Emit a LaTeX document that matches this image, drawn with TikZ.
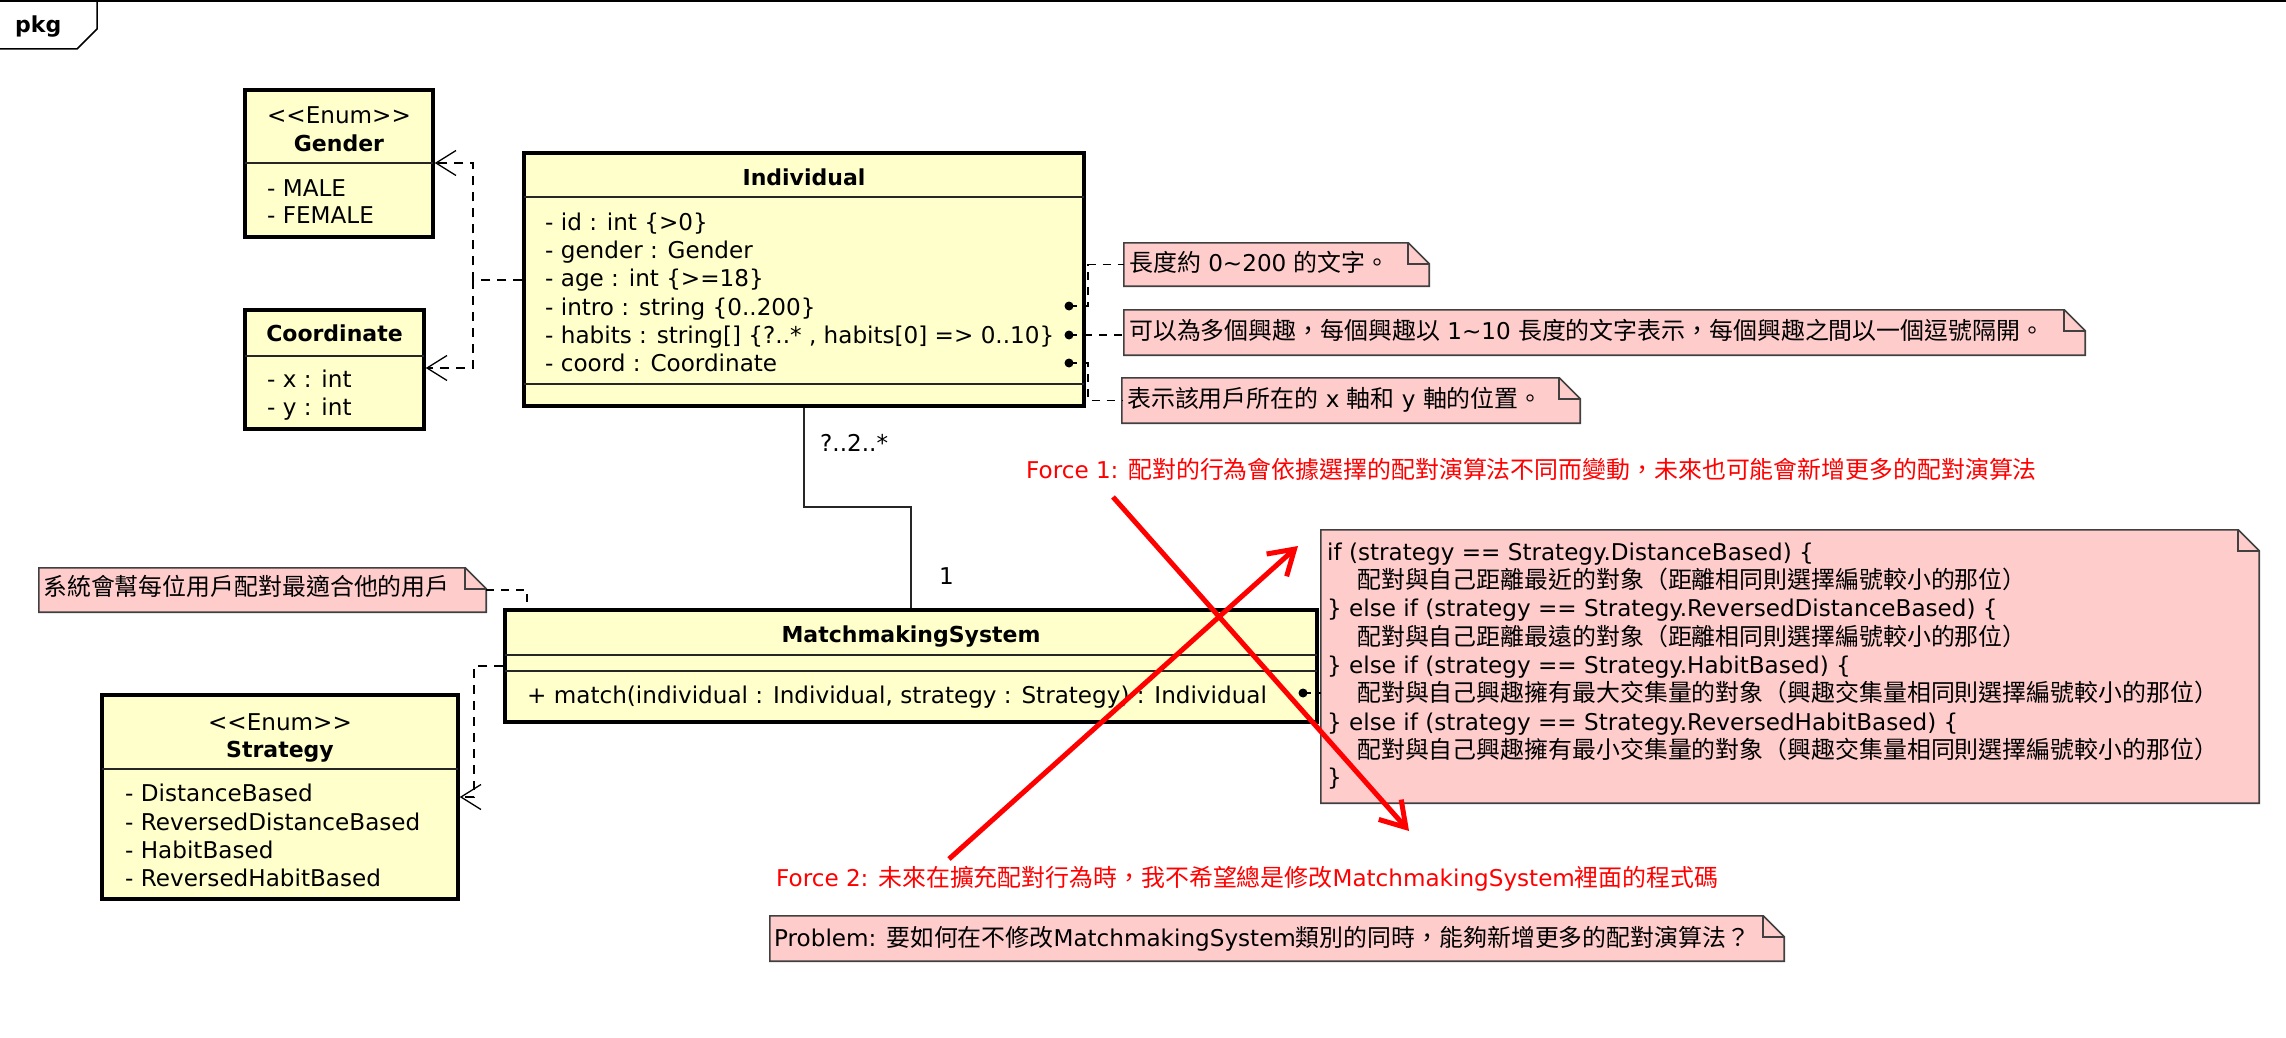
\documentclass[tikz,border=0pt]{standalone}
\usepackage{fontspec}
\setmainfont{DejaVu Sans}
\newfontfamily\cjkfont{Noto Sans CJK TC}[Scale=1.035]
\newcommand\zh[1]{{\cjkfont #1}}
\newcommand\enumtag{<\kern0pt<Enum>\kern0pt>}
\usetikzlibrary{arrows.meta,fit}
\definecolor{umlyellow}{RGB}{255,255,204}
\definecolor{notepink}{RGB}{255,204,204}
\definecolor{forcered}{RGB}{255,0,0}
\tikzset{
  classbox/.style={draw=black, line width=3.5pt, fill=umlyellow, inner sep=0pt},
  divider/.style={draw=black!85, line width=1.3pt},
  holder/.style={inner sep=0pt},
  noteline/.style={draw=black!75, line width=1.6pt},
  txt/.style={inner sep=0pt, anchor=west, font=\fontsize{23.1pt}{28pt}\selectfont, text height=21pt, text depth=4.4pt},
  ctxt/.style={txt, anchor=center},
  ttl/.style={txt, anchor=center, font=\bfseries\fontsize{22pt}{28pt}\selectfont},
  redtxt/.style={txt, text=forcered},
  dep/.style={draw=black, line width=1.3pt, dash pattern=on 9pt off 7pt, -{Straight Barb[length=20pt,width=25pt]}},
  notelink/.style={draw=black, line width=1.3pt, dash pattern=on 8pt off 7pt},
  assoc/.style={draw=black!85, line width=1.3pt},
  dotmark/.style={circle, fill=black, inner sep=0pt, minimum size=9pt},
  force/.style={draw=forcered, line width=5pt, -{Straight Barb[length=24pt,width=30pt]}},
}
\newcommand\drawnote[1]{%
  \draw[noteline, fill=notepink] (#1.north west) -- ([xshift=-21pt]#1.north east) -- ([yshift=-21pt]#1.north east) -- (#1.south east) -- (#1.south west) -- cycle;
  \draw[noteline] ([xshift=-21pt]#1.north east) -- ([xshift=-21pt,yshift=-21pt]#1.north east) -- ([yshift=-21pt]#1.north east);}
\begin{document}
\begin{tikzpicture}[x=1pt,y=-1pt]
\fill[white] (0,0) rectangle (2286,1038);
\useasboundingbox (0,0) rectangle (2286,1038);

% frame
\draw[line width=2.5pt] (0,1.25) -- (2286,1.25);
\draw[line width=1.5pt] (97,0) -- (97,29) -- (77,49) -- (0,49);
\node[inner sep=0pt, anchor=base west, font=\bfseries\fontsize{22pt}{24pt}\selectfont] (pkg) at (15,33) {pkg};

% class boxes
\node[classbox, fit={(245,90) (433,237)}] (gender) {};
\node[classbox, fit={(245,310) (424,429)}] (coordbox) {};
\node[classbox, fit={(524,153) (1084,406)}] (individual) {};
\node[classbox, fit={(505,610) (1317,722)}] (mm) {};
\node[classbox, fit={(102,695) (458,899)}] (strategy) {};

\draw[divider] (245,163) -- (433,163);
\draw[divider] (245,356) -- (424,356);
\draw[divider] (524,197) -- (1084,197);
\draw[divider] (524,384) -- (1084,384);
\draw[divider] (505,655) -- (1317,655);
\draw[divider] (505,671) -- (1317,671);
\draw[divider] (102,769) -- (458,769);

% notes
\node[holder, fit={(1124,243) (1429,286)}] (n1) {};
\node[holder, fit={(1124,310) (2085,355)}] (n2) {};
\node[holder, fit={(1122,378) (1580,423)}] (n3) {};
\node[holder, fit={(39,568) (486,612)}] (sysnote) {};
\node[holder, fit={(1321,530) (2259,803)}] (bignote) {};
\node[holder, fit={(770,916) (1784,961)}] (problem) {};
\drawnote{n1}\drawnote{n2}\drawnote{n3}\drawnote{sysnote}\drawnote{bignote}\drawnote{problem}

% class texts
\node[ctxt] (g-st) at (339,115) {\enumtag};
\node[ttl] (g-nm) at (339,143) {Gender};
\node[txt] (g-1) at (267,188) {- MALE};
\node[txt] (g-2) at (267,215) {- FEMALE};

\node[ttl] (c-nm) at (334.5,333) {Coordinate};
\node[txt] (c-1) at (267,379) {- x : int};
\node[txt] (c-2) at (267,407) {- y : int};

\node[ttl] (i-nm) at (804,177) {Individual};
\node[txt] (i-1) at (545,222) {- id : int \{>0\}};
\node[txt] (i-2) at (545,250) {- gender : Gender};
\node[txt] (i-3) at (545,278) {- age : int \{>=18\}};
\node[txt] (i-4) at (545,307) {- intro : string \{0..200\}};
\node[txt] (i-5) at (545,335) {- habits : string[] \{?..* , habits[0] => 0..10\}};
\node[txt] (i-6) at (545,363) {- coord : Coordinate};

\node[ttl] (m-nm) at (911,634) {MatchmakingSystem};
\node[txt] (m-1) at (527,695) {+ match(individual : Individual, strategy : Strategy) : Individual};

\node[ctxt] (s-st) at (280,722) {\enumtag};
\node[ttl] (s-nm) at (280,749) {Strategy};
\node[txt] (s-1) at (125,793) {- DistanceBased};
\node[txt] (s-2) at (125,822) {- ReversedDistanceBased};
\node[txt] (s-3) at (125,850) {- HabitBased};
\node[txt] (s-4) at (125,878) {- ReversedHabitBased};

% note texts
\node[txt] (n1t) at (1129,263) {\zh{長度約} 0\textasciitilde 200 \zh{的文字。}};
\node[txt] (n2t) at (1129,331) {\zh{可以為多個興趣，每個興趣以} 1\textasciitilde 10 \zh{長度的文字表示，每個興趣之間以一個逗號隔開。}};
\node[txt] (n3t) at (1127,399) {\zh{表示該用戶所在的} x \zh{軸和} y \zh{軸的位置。}};
\node[txt] (syst) at (43,587) {\zh{系統會幫每位用戶配對最適合他的用戶}};
\node[txt] (b1) at (1327,552) {if (strategy == Strategy.DistanceBased) \{};
\node[txt] (b2) at (1357,580) {\zh{配對與自己距離最近的對象（距離相同則選擇編號較小的那位）}};
\node[txt] (b3) at (1327,608) {\} else if (strategy == Strategy.ReversedDistanceBased) \{};
\node[txt] (b4) at (1357,637) {\zh{配對與自己距離最遠的對象（距離相同則選擇編號較小的那位）}};
\node[txt] (b5) at (1327,665) {\} else if (strategy == Strategy.HabitBased) \{};
\node[txt] (b6) at (1357,693) {\zh{配對與自己興趣擁有最大交集量的對象（興趣交集量相同則選擇編號較小的那位）}};
\node[txt] (b7) at (1327,722) {\} else if (strategy == Strategy.ReversedHabitBased) \{};
\node[txt] (b8) at (1357,750) {\zh{配對與自己興趣擁有最小交集量的對象（興趣交集量相同則選擇編號較小的那位）}};
\node[txt] (b9) at (1327,777) {\}};
\node[txt] (probt) at (774,938) {Problem: \zh{要如何在不修改}MatchmakingSystem\zh{類別的同時，能夠新增更多的配對演算法？}};

% association
\draw[assoc] (individual.south) -- (individual.south |- 0,507) -| (mm.north);
\node[txt] (mult1) at (820,443) {?..2..*};
\node[txt] (mult2) at (939,576) {1};

% dependencies
\coordinate (jn1) at (473,280);
\draw[dep] (individual.west |- jn1) -- (jn1) |- (gender.east |- 0,163);
\draw[dep] (jn1) |- (coordbox.east |- 0,368);
\draw[dep] (mm.west |- 0,666) -- (474,666) |- (strategy.east |- 0,797);

% note links
\node[dotmark] (d1) at (1069,306) {};
\node[dotmark] (d2) at (1069,335) {};
\node[dotmark] (d3) at (1069,363) {};
\node[dotmark] (d4) at (1303,693) {};
\draw[notelink] (d1.center) -- ++(19,0) |- (n1.west);
\draw[notelink] (d2.center) -- (n2.west |- d2);
\draw[notelink] (d3.center) -- ++(19,0) |- (n3.west);
\draw[notelink] (d4.center) -- (bignote.west |- d4);
\draw[notelink] (sysnote.east |- 0,590) -| (mm.north -| 527,0);

% forces
\node[redtxt] (force1) at (1026,470) {Force 1: \zh{配對的行為會依據選擇的配對演算法不同而變動，未來也可能會新增更多的配對演算法}};
\node[redtxt] (force2) at (776,878) {Force 2: \zh{未來在擴充配對行為時，我不希望總是修改}MatchmakingSystem\zh{裡面的程式碼}};
\coordinate (f1a) at (1113,497);
\coordinate (f1b) at (1409,831);
\coordinate (f2a) at (949,859);
\coordinate (f2b) at (1298,546);
\draw[force] (f1a) -- (f1b);
\draw[force] (f2a) -- (f2b);
\end{tikzpicture}
\end{document}
